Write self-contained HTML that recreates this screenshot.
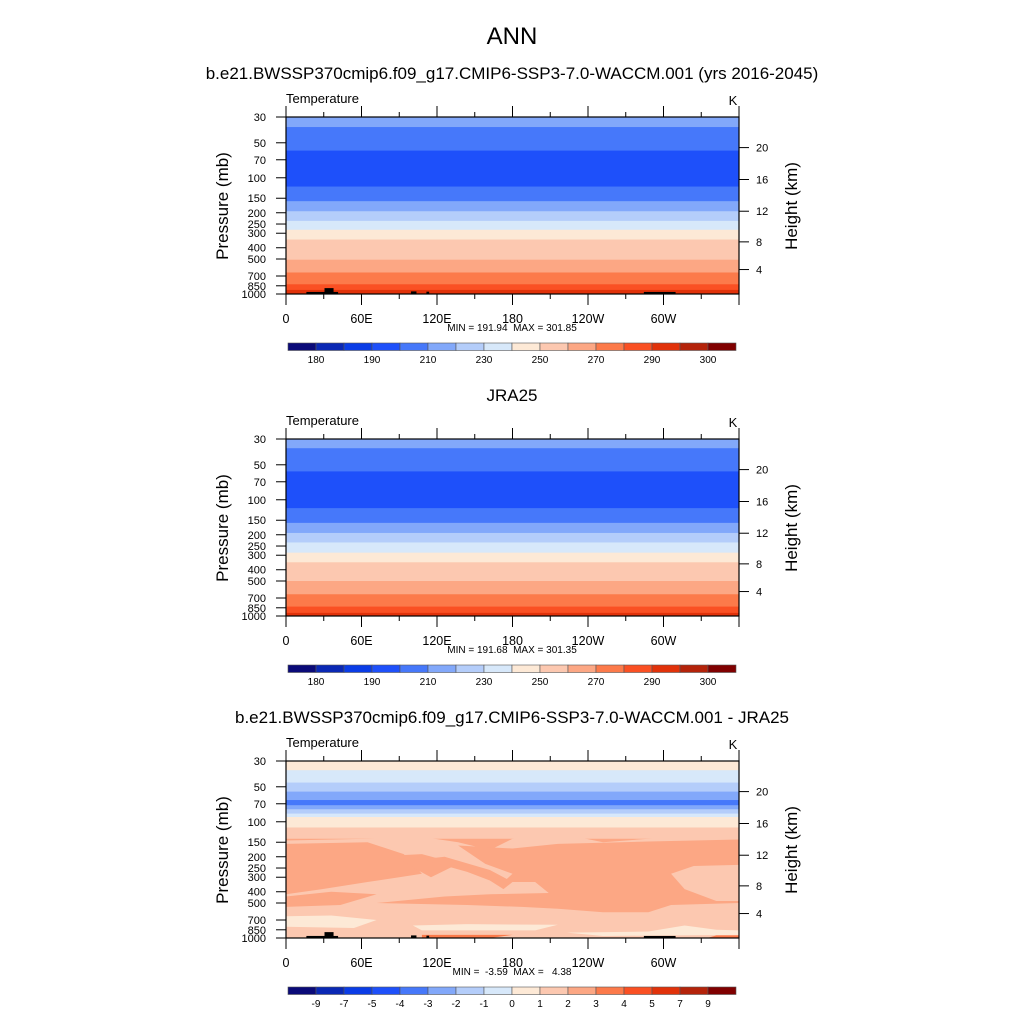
<!DOCTYPE html>
<html><head><meta charset="utf-8"><style>
body{margin:0;background:#fff;}
svg{display:block;font-family:"Liberation Sans",sans-serif;}
text{white-space:pre;}
</style></head><body>
<svg id="fig" width="1024" height="1024" viewBox="0 0 1024 1024">
<text x="512" y="44" font-size="24" text-anchor="middle">ANN</text>
</svg>
<script>
const COLORS=["#0a0a78","#0a28b4","#0a3ce6","#1e50fa","#4678fa","#82a8fa","#b4cdfa","#d7e8fa","#fde9d6","#fcc8b0","#fca784","#fc7a4a","#fa5023","#e1320a","#b4230a","#800000"];
const TEMP_LEVELS=["180","190","210","230","250","270","290","300"];
const DIFF_LEVELS=["-9","-7","-5","-4","-3","-2","-1","0","1","2","3","4","5","7","9"];
const LON_LABELS=["0","60E","120E","180","120W","60W"];
const P_TICKS=[30,50,70,100,150,200,250,300,400,500,700,850,1000];
const H_TICKS=[20,16,12,8,4];
const H_PRESS=[55,103.5,194,356,616];
const P1_BOUNDS=[30,36.6,58.4,119,159,194,235,280,340,507,653,825,922,1000];
const P1_COLS=[5,4,3,4,5,6,7,8,9,10,11,12,13];
const P2_BOUNDS=[30,36,57,118,158,193,233,285,345,500,650,830,940,1000];
const P2_COLS=[5,4,3,4,5,6,7,8,9,10,11,12,13];
const P3_BOUNDS=[30,36,46,55,65,72,78,85,91,112,140,1000];
const P3_COLS=[8,7,6,5,4,5,6,7,8,9,10];
const P3_BLOBS=[
 {c:9,pts:[[0,145],[0.18,140],[0.3,135],[0.38,150],[0.45,175],[0.5,140],[0.6,125],[0.7,150],[0.8,140],[0.9,132],[1,130],[1,1000],[0,1000]]},
 {c:10,pts:[[0,155],[0.18,150],[0.26,190],[0.3,280],[0.25,300],[0.18,330],[0.08,380],[0,420]]},
 {c:10,pts:[[0.24,195],[0.3,190],[0.38,230],[0.32,300],[0.29,260]]},
 {c:10,pts:[[0.3,210],[0.35,200],[0.45,260],[0.5,330],[0.48,380],[0.45,320],[0.4,270]]},
 {c:10,pts:[[0.38,160],[0.5,170],[0.6,155],[0.8,148],[0.9,145],[1,142],[1,235],[0.9,240],[0.85,280],[0.88,380],[0.95,480],[1,480],[1,500],[0.85,520],[0.8,600],[0.7,600],[0.6,560],[0.52,540],[0.4,520],[0.2,500],[0.35,440],[0.45,420],[0.58,410],[0.55,330],[0.48,330],[0.5,280],[0.44,230]]},
 {c:10,pts:[[0,440],[0.1,400],[0.2,420],[0.12,520],[0,540]]},
 {c:8,pts:[[0,650],[0.1,640],[0.2,700],[0.15,820],[0,800]]},
 {c:8,pts:[[0.28,780],[0.4,760],[0.6,770],[0.55,860],[0.3,860]]},
 {c:8,pts:[[0.62,900],[0.8,880],[0.88,780],[0.95,850],[1,860],[1,940],[0.7,960]]},
 {c:11,pts:[[0.3,940],[0.5,940],[0.45,1000],[0.3,1000]]},
 {c:11,pts:[[0.95,950],[1,950],[1,1000],[0.93,1000]]}
];
const TERRAIN_LON=[[0.045,0.115,960],[0.085,0.105,890],[0.276,0.288,950],[0.31,0.316,955],[0.79,0.86,960]];

const NS="http://www.w3.org/2000/svg";
const svg=document.getElementById('fig');
function mk(tag,attrs,parent){const e=document.createElementNS(NS,tag);for(const k in attrs)e.setAttribute(k,attrs[k]);(parent||svg).appendChild(e);return e;}
function txt(x,y,s,size,anchor,parent){const t=mk('text',{x:x,y:y,'font-size':size,'text-anchor':anchor||'middle'},parent);t.textContent=s;return t;}

const X0=286,X1=739;
function panel(top,bounds,cols,blobs,terrain,title,minmax,levels,cbOffset){
  const bot=top+177;
  const py=p=>top+(bot-top)*Math.log(p/30)/Math.log(1000/30);
  const lx=f=>X0+(X1-X0)*f;
  const g=mk('g',{});
  
  
  for(let i=0;i<cols.length;i++){
    const r=mk('rect',{x:X0,y:py(bounds[i]),width:X1-X0,height:py(bounds[i+1])-py(bounds[i])+0.5,fill:COLORS[cols[i]]},g);
    
    
  }
  blobs.forEach(b=>{
    const p=mk('polygon',{points:b.pts.map(q=>lx(q[0])+','+py(q[1])).join(' '),fill:COLORS[b.c]},g);
    
    
  });
  if(terrain){terrain.forEach(t=>{
    const r=mk('rect',{x:lx(t[0]),y:py(t[2]),width:lx(t[1])-lx(t[0]),height:bot-py(t[2]),fill:'#000'},g);
    
    
  });}
  const fr=mk('rect',{x:X0,y:top,width:X1-X0,height:bot-top,fill:'none',stroke:'#000','stroke-width':1.2},g);
  
  
  P_TICKS.forEach(p=>{mk('line',{x1:X0-10,x2:X0,y1:py(p),y2:py(p),stroke:'#000'},g);
    const t=txt(X0-20,py(p)+4,String(p),11,'end',g);
    });
  H_TICKS.forEach((h,i)=>{const y=py(H_PRESS[i]);mk('line',{x1:X1,x2:X1+10,y1:y,y2:y,stroke:'#000'},g);
    const t=txt(X1+17,y+4,String(h),11,'start',g);
    });
  for(let i=0;i<=12;i++){const x=lx(i/12);const L=i%2==0?11:5;
    mk('line',{x1:x,x2:x,y1:top,y2:top-L,stroke:'#000'},g);
    mk('line',{x1:x,x2:x,y1:bot,y2:bot+L,stroke:'#000'},g);}
  LON_LABELS.forEach((s,i)=>{const t=txt(lx(i/6),bot+29,s,12.5,'middle',g);
    });
  const mm=txt(512,bot+37,minmax,10,'middle',g);
  const tl=txt(X0,top-14,'Temperature',13,'start',g);
  const k=txt(733,top-12,'K',13,'middle',g);
  const pl=txt(0,0,'Pressure (mb)',17,'middle',g);pl.setAttribute('transform',`translate(228,${top+89}) rotate(-90)`);
  
  const hl=txt(0,0,'Height (km)',17,'middle',g);hl.setAttribute('transform',`translate(797,${top+89}) rotate(-90)`);
  
  const tt=txt(512,top-38,title,17,'middle',g);
  const cy=bot+49,cw=28;
  for(let i=0;i<16;i++){const r=mk('rect',{x:288+i*cw,y:cy,width:cw,height:7.5,fill:COLORS[i],stroke:'#555','stroke-width':0.6},g);
    }
  levels.forEach((s,i)=>{const idx=cbOffset?i+1:2*i+1;const t=txt(288+idx*cw,cy+20,s,10,'middle',g);
    });
}
panel(117,P1_BOUNDS,P1_COLS,[],TERRAIN_LON,'b.e21.BWSSP370cmip6.f09_g17.CMIP6-SSP3-7.0-WACCM.001 (yrs 2016-2045)','MIN = 191.94  MAX = 301.85',TEMP_LEVELS,false);
panel(439,P2_BOUNDS,P2_COLS,[],null,'JRA25','MIN = 191.68  MAX = 301.35',TEMP_LEVELS,false);
panel(761,P3_BOUNDS,P3_COLS,P3_BLOBS,TERRAIN_LON,'b.e21.BWSSP370cmip6.f09_g17.CMIP6-SSP3-7.0-WACCM.001 - JRA25','MIN =  -3.59  MAX =   4.38',DIFF_LEVELS,true);
</script>
</body></html>
